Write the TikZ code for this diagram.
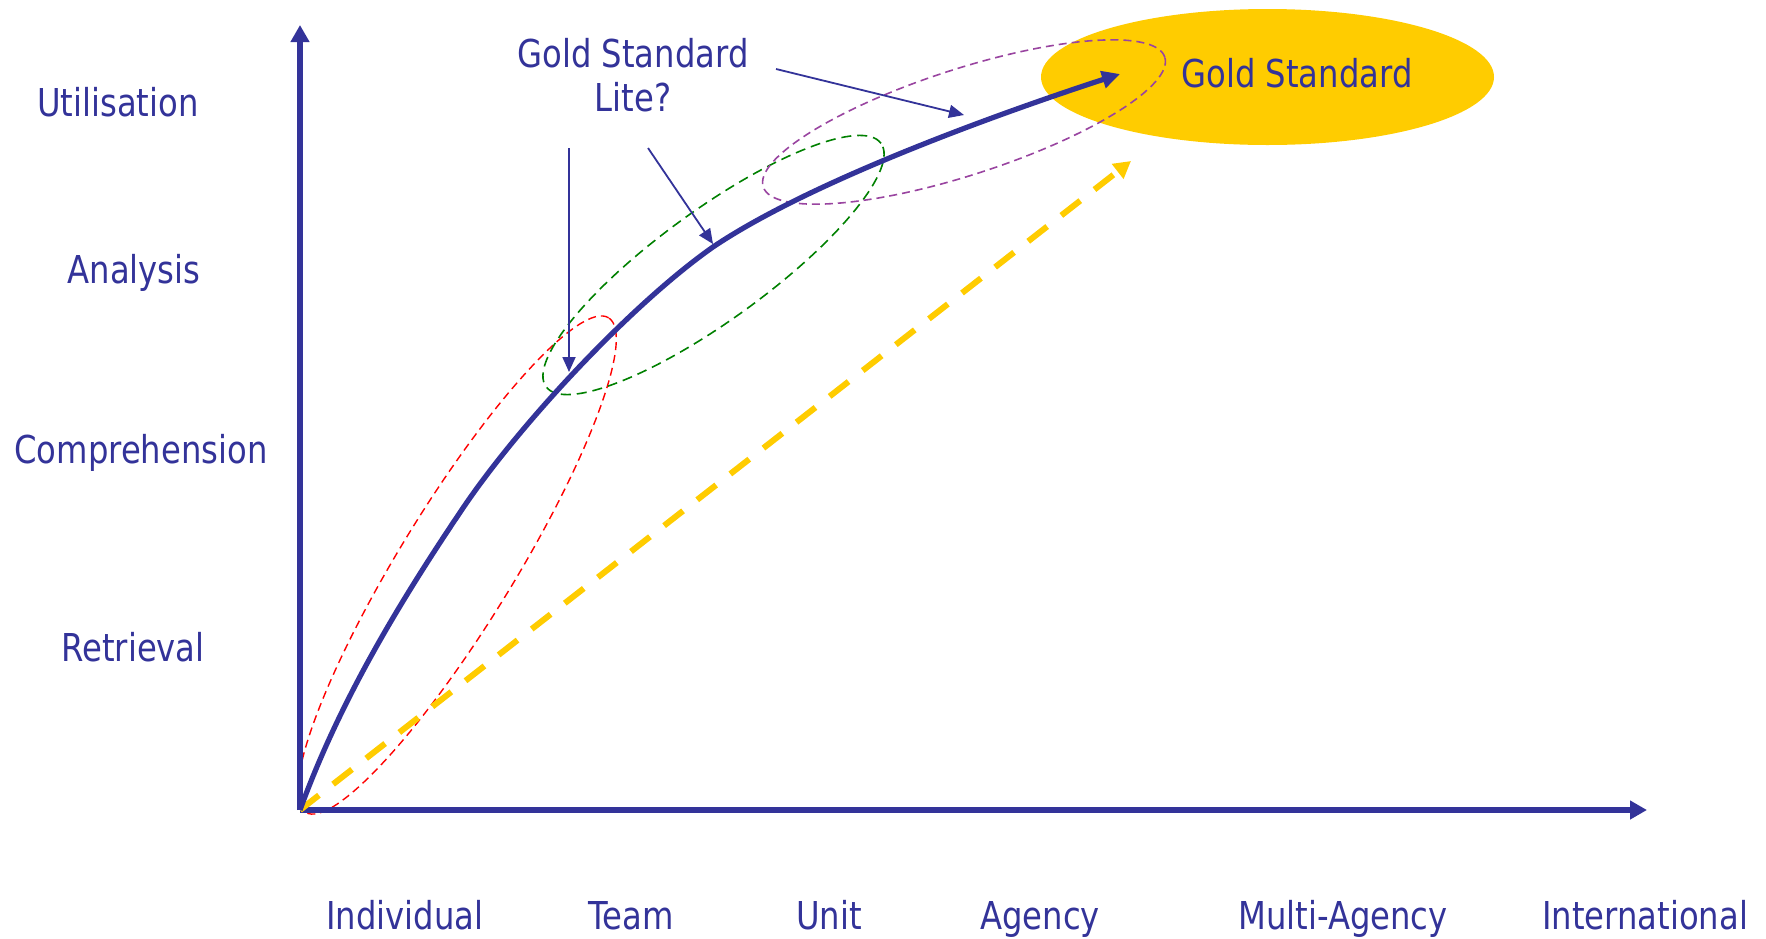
\documentclass[tikz,border=0pt]{standalone}
\usepackage{fontspec}
\setmainfont{DejaVu Sans}[FakeStretch=0.84]
\usetikzlibrary{arrows.meta,shapes.geometric}
\definecolor{navy}{RGB}{51,51,153}
\definecolor{gold}{RGB}{255,204,0}
\definecolor{ellred}{RGB}{255,0,0}
\definecolor{ellgreen}{RGB}{0,128,0}
\definecolor{ellpurple}{RGB}{153,68,160}
\begin{document}
\begin{tikzpicture}[x=0.5pt,y=-0.5pt,
  lbl/.style={text=navy, inner sep=0pt, anchor=base, font=\fontsize{19.2}{22}\selectfont},
  axisline/.style={draw=navy, line width=2.75pt, -{Triangle[length=8.5pt,width=9pt]}},
  mainline/.style={draw=navy, line width=2.6pt, -{Triangle[length=9pt,width=8.5pt]}},
  thinarrow/.style={draw=navy, line width=0.9pt, -{Triangle[length=7.5pt,width=6.5pt]}},
  goldarrow/.style={draw=gold, line width=3pt, dash pattern=on 12pt off 9pt, -{Triangle[length=8.5pt,width=9pt]}},
  ringline/.style={line width=0.8pt, dash pattern=on 4.5pt off 2.8pt},
  goldblob/.style={ellipse, fill=gold, draw=none, inner sep=0pt}
]
\useasboundingbox (0,0) rectangle (1766,938);

% gold standard blob
\node[goldblob, minimum width=226.5pt, minimum height=68pt] (gsblob) at (1267.5,77) {};

% dashed rings
\draw[ringline, draw=ellred, line width=0.7pt, dash pattern=on 4pt off 2.5pt, rotate around={58.5:(457,565)}] (457,565) ellipse [x radius=145pt, y radius=28.75pt];
\draw[ringline, draw=ellgreen, dash pattern=on 5pt off 3pt, rotate around={36:(713.5,265)}] (713.5,265) ellipse [x radius=103.5pt, y radius=27.5pt];
\draw[ringline, draw=ellpurple, dash pattern=on 4pt off 2.5pt, rotate around={17.9:(964,122)}] (964,122) ellipse [x radius=105.5pt, y radius=26.5pt];

% axes
\coordinate (o) at (300,810);
\coordinate (ytip) at (300,25);
\coordinate (xtip) at (1647,810);
\draw[axisline] (o) -- (ytip);
\draw[axisline] (o) -- (xtip);

% yellow dashed trend
\coordinate (ytrend) at (1131,161);
\draw[goldarrow] (o) -- (ytrend);

% main curve
\coordinate (m1) at (463,508);
\coordinate (m2) at (713,247);
\coordinate (mend) at (1120,74);
\draw[mainline] (o) .. controls (339.3,701.9) and (398.7,603.3) .. (m1)
                    .. controls (518.9,425.1) and (631.1,304.4) .. (m2)
                    .. controls (812.5,179.9) and (1005.9,111.1) .. (mend);

% y labels
\node[lbl] (util) at (118,116) {Utilisation};
\node[lbl] (anal) at (134,283) {Analysis};
\node[lbl] (comp) at (141,463) {Comprehension};
\node[lbl] (retr) at (133,661) {Retrieval};

% x labels
\node[lbl] (indiv) at (405,929) {Individual};
\node[lbl] (team) at (631,929) {Team};
\node[lbl] (unit) at (829,929) {Unit};
\node[lbl] (agency) at (1040,929) {Agency};
\node[lbl] (multi) at (1343,929) {Multi-Agency};
\node[lbl] (intl) at (1645,929) {International};

% gold standard label
\node[lbl] (gstext) at (1297,87) {Gold Standard};

% gold standard lite label
\node[lbl, anchor=center, align=center, font=\fontsize{19.2}{22}\selectfont] (gsl) at (633,75.5) {Gold Standard\\Lite?};

% pointer arrows
\coordinate (p1s) at (776,69);
\coordinate (p1e) at (964,115);
\coordinate (p2s) at (648,148);
\coordinate (p2e) at (713,244);
\coordinate (p3s) at (569,148);
\coordinate (p3e) at (569,372);
\draw[thinarrow] (p1s) -- (p1e);
\draw[thinarrow] (p2s) -- (p2e);
\draw[thinarrow] (p3s) -- (p3e);
\end{tikzpicture}
\end{document}
